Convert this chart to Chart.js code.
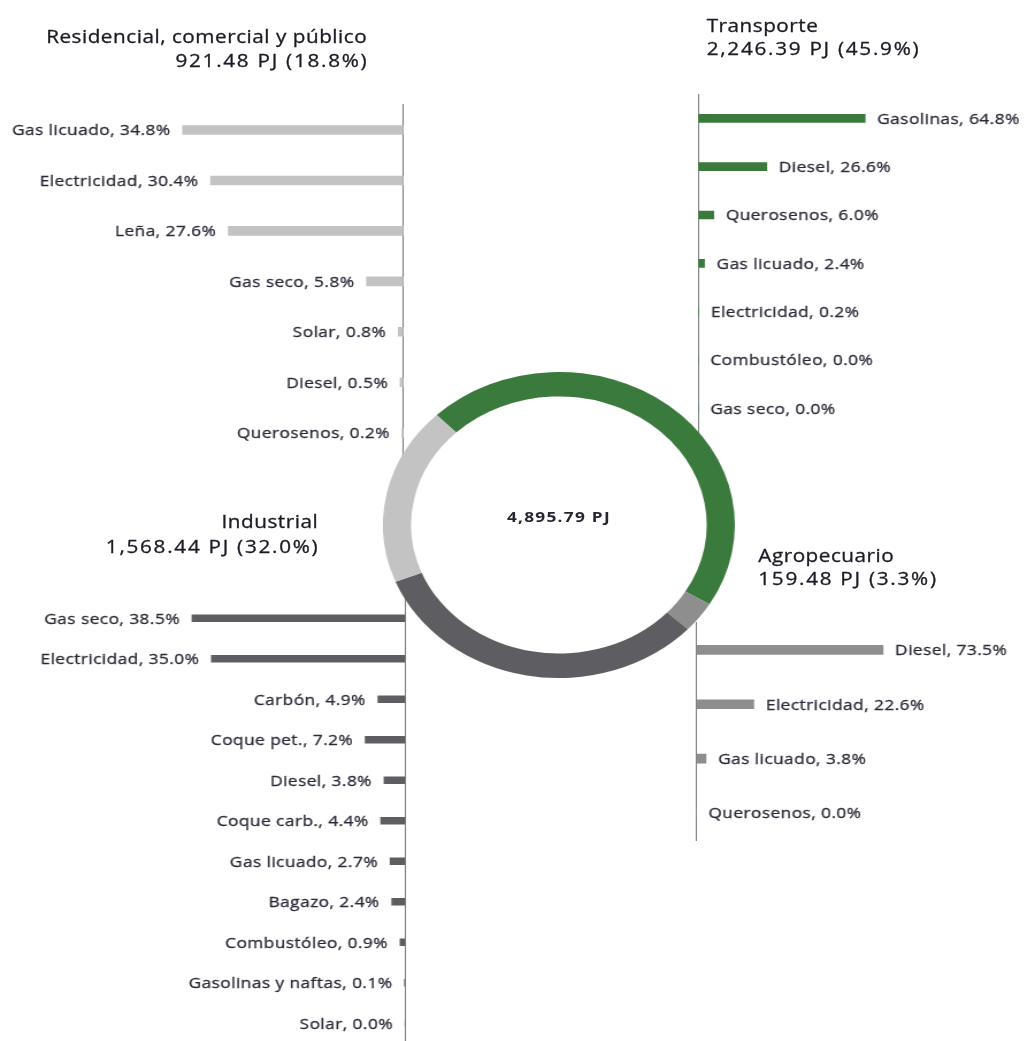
<!DOCTYPE html>
<html><head><meta charset="utf-8">
<script src="https://cdn.jsdelivr.net/npm/chart.js@4.4.1/dist/chart.umd.min.js"></script>
<style>
html,body{margin:0;padding:0;background:#fff;overflow:hidden;width:1024px;height:1041px;}
#stage{position:absolute;left:0;top:0;width:890.4px;height:1041px;transform:scaleX(1.15);transform-origin:0 0;font-family:'Open Sans',sans-serif;}
.box{position:absolute;}
.t{position:absolute;white-space:nowrap;font-size:18px;line-height:18px;color:#1b1b26;letter-spacing:0.45px;-webkit-text-stroke:0.3px #1b1b26;}
.num{letter-spacing:1.5px;}
#center{position:absolute;white-space:nowrap;font-size:15px;line-height:15px;font-weight:700;color:#262632;letter-spacing:1.1px;transform:translateX(-50%);}
</style></head>
<body><div id="stage">
<div class="box" id="wRes" style="left:0;top:100px;width:353px;height:362px"><canvas id="cRes"></canvas></div>
<div class="box" id="wTra" style="left:605px;top:90px;width:285.4px;height:346px"><canvas id="cTra"></canvas></div>
<div class="box" id="wInd" style="left:0;top:594px;width:355px;height:452px"><canvas id="cInd"></canvas></div>
<div class="box" id="wAgr" style="left:603px;top:618px;width:287.4px;height:226px"><canvas id="cAgr"></canvas></div>
<div class="box" id="wDon" style="left:333.1px;top:372px;width:306px;height:306px"><canvas id="cDon"></canvas></div>
<div id="center"></div>
</div>
<script>
// ---- data ----
const sectorNames = ['Transporte', 'Agropecuario', 'Industrial', 'Residencial, comercial y público'];
const sectorPJ = [2246.39, 159.48, 1568.44, 921.48];
const sectorPct = [45.9, 3.3, 32.0, 18.8];
const totalPJ = 4895.79;

const resLabels = ['Gas licuado', 'Electricidad', 'Leña', 'Gas seco', 'Solar', 'Diesel', 'Querosenos'];
const resValues = [34.8, 30.4, 27.6, 5.8, 0.8, 0.5, 0.2];

const traLabels = ['Gasolinas', 'Diesel', 'Querosenos', 'Gas licuado', 'Electricidad', 'Combustóleo', 'Gas seco'];
const traValues = [64.8, 26.6, 6.0, 2.4, 0.2, 0.0, 0.0];

const indLabels = ['Gas seco', 'Electricidad', 'Carbón', 'Coque pet.', 'Diesel', 'Coque carb.', 'Gas licuado', 'Bagazo', 'Combustóleo', 'Gasolinas y naftas', 'Solar'];
const indValues = [38.5, 35.0, 4.9, 7.2, 3.8, 4.4, 2.7, 2.4, 0.9, 0.1, 0.0];

const agrLabels = ['Diesel', 'Electricidad', 'Gas licuado', 'Querosenos'];
const agrValues = [73.5, 22.6, 3.8, 0.0];

// ---- styles ----
const cGreen = '#3a7a3d', cAgr = '#8e8e8e', cInd = '#5e5e62', cRes = '#c3c3c3';
const axisColor = '#7a7a7a';
Chart.defaults.font.family = "'Open Sans', sans-serif";

const fmtPJ = v => v.toLocaleString('en-US', {minimumFractionDigits: 2, maximumFractionDigits: 2});

const barLabels = {
  id: 'barLabels',
  afterDatasetsDraw(chart, args, opts) {
    const ctx = chart.ctx;
    const meta = chart.getDatasetMeta(0);
    const ds = chart.data.datasets[0];
    ctx.save();
    ctx.font = "15px 'Open Sans'";
    ctx.fillStyle = '#2a2a38';
    ctx.strokeStyle = '#2a2a38';
    ctx.lineWidth = 0.3;
    if ('letterSpacing' in ctx) ctx.letterSpacing = '0.4px';
    ctx.textBaseline = 'alphabetic';
    const left = opts.side === 'left';
    ctx.textAlign = left ? 'right' : 'left';
    meta.data.forEach((bar, i) => {
      const txt = chart.data.labels[i] + ', ' + ds.data[i].toFixed(1) + '%';
      const x = left ? bar.x - 10.5 : bar.x + 10.5;
      ctx.fillText(txt, x, bar.y + 5.3);
      ctx.strokeText(txt, x, bar.y + 5.3);
    });
    ctx.restore();
  }
};

function makeBar(id, labels, values, color, side, max, thick, pad) {
  return new Chart(document.getElementById(id), {
    type: 'bar',
    data: {labels: labels, datasets: [{data: values, backgroundColor: color, barThickness: thick, borderWidth: 0}]},
    options: {
      indexAxis: 'y', responsive: true, maintainAspectRatio: false, animation: false, events: [],
      layout: {padding: pad},
      plugins: {legend: {display: false}, tooltip: {enabled: false}, barLabels: {side: side}},
      scales: {
        x: {display: false, min: 0, max: max, reverse: side === 'left'},
        y: {position: side === 'left' ? 'right' : 'left',
            grid: {display: false, drawTicks: false},
            ticks: {display: false},
            border: {display: true, color: axisColor, width: 1}}
      }
    },
    plugins: [barLabels]
  });
}

makeBar('cRes', resLabels, resValues, cRes, 'left', 63.6, 9, {top: 4.8, bottom: 4.1, left: 0, right: 2.3});
makeBar('cTra', traLabels, traValues, cGreen, 'right', 100, 8, {top: 4.2, bottom: 3.5, left: 2.2, right: 59.3});
makeBar('cInd', indLabels, indValues, cInd, 'left', 73.2, 7, {top: 4, bottom: 2.5, left: 0, right: 2.8});
makeBar('cAgr', agrLabels, agrValues, cAgr, 'right', 100, 9, {top: 4.8, bottom: 4, left: 2.5, right: 64});

new Chart(document.getElementById('cDon'), {
  type: 'doughnut',
  data: {labels: sectorNames, datasets: [{data: sectorPJ, backgroundColor: [cGreen, cAgr, cInd, cRes],
         borderWidth: 0, hoverBorderWidth: 0, hoverOffset: 0}]},
  options: {responsive: true, maintainAspectRatio: false, animation: false, events: [],
            cutout: '84%', rotation: -44, layout: {padding: 0},
            plugins: {legend: {display: false}, tooltip: {enabled: false}}}
});

// ---- titles ----
const stage = document.getElementById('stage');
const titlePos = [
  {align: 'left', x: 614.5, t1: 15.8, t2: 39.1},
  {align: 'left', x: 659.4, t1: 545.8, t2: 569.1},
  {align: 'right', x: 276.3, t1: 512.4, t2: 536.5},
  {align: 'right', x: 318.9, t1: 26.8, t2: 50.8}
];
sectorNames.forEach((name, i) => {
  const p = titlePos[i];
  const lines = [name, fmtPJ(sectorPJ[i]) + ' PJ (' + sectorPct[i].toFixed(1) + '%)'];
  lines.forEach((txt, k) => {
    const d = document.createElement('div');
    d.className = 't' + (k === 1 ? ' num' : '');
    d.textContent = txt;
    d.style.top = (k === 0 ? p.t1 : p.t2) + 'px';
    if (p.align === 'left') d.style.left = p.x + 'px';
    else { d.style.right = (890.4 - p.x) + 'px'; d.style.marginRight = (k === 1 ? '-1.5px' : '-0.45px'); }
    stage.appendChild(d);
  });
});
const c = document.getElementById('center');
c.textContent = fmtPJ(totalPJ) + ' PJ';
c.style.left = '486px';
c.style.top = '508.8px';
</script>
</body></html>
